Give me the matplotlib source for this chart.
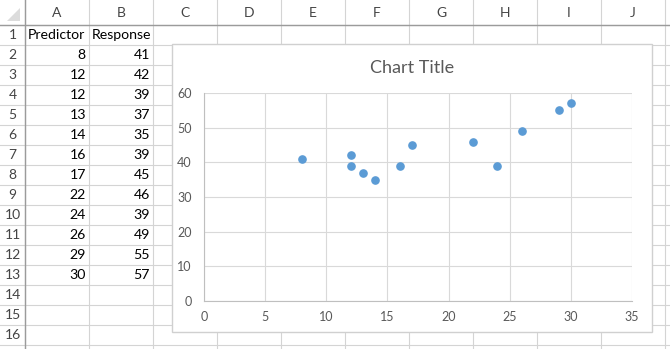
import matplotlib.pyplot as plt
from matplotlib.patches import Rectangle, Polygon

# data from the sheet
predictor = [8, 12, 12, 13, 14, 16, 17, 22, 24, 26, 29, 30]
response = [41, 42, 39, 37, 35, 39, 45, 46, 39, 49, 55, 57]
col_letters = ['A', 'B', 'C', 'D', 'E', 'F', 'G', 'H', 'I', 'J']
row_numbers = list(range(1, 17))
headers = ['Predictor', 'Response']

W, H = 670, 349
FONT = 'Lato'
plt.rcParams['font.family'] = [FONT, 'DejaVu Sans']

fig = plt.figure(figsize=(W / 100, H / 100), dpi=100)
bg = fig.add_axes([0, 0, 1, 1])
bg.set_xlim(0, W)
bg.set_ylim(H, 0)
bg.axis('off')

hdr_w, hdr_h = 25, 25
col_w, row_h = 64, 20
grid_c = '#d4d4d4'

# sheet gridlines
for i in range(len(col_letters) + 1):
    x = hdr_w + i * col_w
    bg.plot([x, x], [0, H], color=grid_c, lw=0.8)
for j in range(len(row_numbers) + 1):
    y = hdr_h + j * row_h
    bg.plot([0, W], [y, y], color=grid_c, lw=0.8)
bg.plot([0, W], [hdr_h, hdr_h], color='#9b9b9b', lw=1)
bg.plot([hdr_w, hdr_w], [0, H], color='#9b9b9b', lw=1)
bg.add_patch(Polygon([[20, 8], [20, 21], [7, 21]], closed=True, color='#dcdcdc', lw=0))

for i, c in enumerate(col_letters):
    bg.text(hdr_w + (i + 0.5) * col_w, 13, c, ha='center', va='center',
            fontsize=10, color='#444444')
for j, r in enumerate(row_numbers):
    bg.text(hdr_w / 2, hdr_h + (j + 0.5) * row_h, str(r), ha='center', va='center',
            fontsize=10, color='#444444')

# cell contents
for i, h in enumerate(headers):
    bg.text(hdr_w + i * col_w + 3, hdr_h + row_h / 2, h, ha='left', va='center',
            fontsize=10.2, color='black')
for j, (p, r) in enumerate(zip(predictor, response)):
    y = hdr_h + (j + 1.5) * row_h
    bg.text(hdr_w + col_w - 3, y, str(p), ha='right', va='center', fontsize=10.2, color='black')
    bg.text(hdr_w + 2 * col_w - 3, y, str(r), ha='right', va='center', fontsize=10.2, color='black')

# chart area
cx0, cy0, cx1, cy1 = 172, 44, 652, 332
bg.add_patch(Rectangle((cx0, cy0), cx1 - cx0, cy1 - cy0, facecolor='white',
                       edgecolor='#d0d0d0', lw=1, zorder=5))
bg.text((cx0 + cx1) / 2, 68, 'Chart Title', ha='center', va='center',
        fontsize=13, color='#595959', zorder=6)

# plot area
px0, py0, px1, py1 = 204, 93, 632, 301
ax = fig.add_axes([px0 / W, 1 - py1 / H, (px1 - px0) / W, (py1 - py0) / H])
ax.plot(predictor, response, 'o', color='#5b9bd5', markersize=5.2, zorder=3)
ax.set_xlim(0, 35)
ax.set_ylim(0, 60)
ax.set_xticks(range(0, 36, 5))
ax.set_yticks(range(0, 61, 10))
ax.grid(True, color='#d9d9d9', lw=0.8)
ax.set_axisbelow(True)
for s in ['top', 'right']:
    ax.spines[s].set_visible(False)
for s in ['left', 'bottom']:
    ax.spines[s].set_color('#bfbfbf')
    ax.spines[s].set_linewidth(0.8)
ax.tick_params(length=0, labelsize=9, labelcolor='#595959')
ax.tick_params(axis='y', pad=9)
ax.tick_params(axis='x', pad=7)

fig.savefig('out.png', dpi=100)
